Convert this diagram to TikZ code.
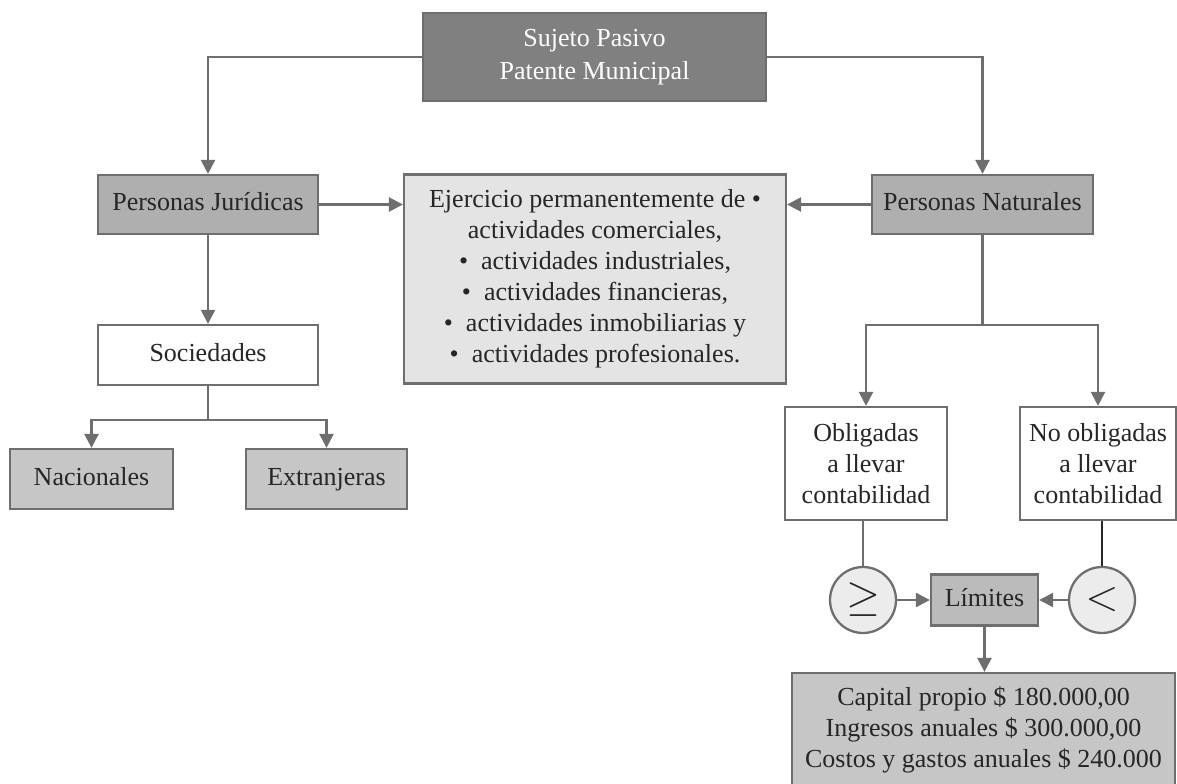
\documentclass[tikz,border=0pt]{standalone}
\usepackage{fontspec}
\setmainfont{Liberation Serif}
\usetikzlibrary{arrows.meta,positioning,calc}
\definecolor{DarkBox}{HTML}{808080}
\definecolor{MidBox}{HTML}{AFAFAF}
\definecolor{SoftBox}{HTML}{C6C6C6}
\definecolor{PaleBox}{HTML}{E4E4E4}
\definecolor{RoundBox}{HTML}{ECECEC}
\definecolor{Edge}{HTML}{6E6E6E}
\definecolor{Ink}{HTML}{262626}
\begin{document}
\begin{tikzpicture}[x=0.02cm,y=-0.02cm,
    box/.style={rectangle,draw=Edge,line width=1.3pt,text=Ink,align=center,inner sep=0pt,font=\fontsize{14.8}{17.6}\selectfont},
    head/.style={box,fill=DarkBox,text=white,minimum width=6.86cm,minimum height=1.76cm,font=\fontsize{14.8}{18.6}\selectfont},
    group/.style={box,fill=MidBox,minimum width=4.4cm,minimum height=1.18cm},
    kind/.style={box,fill=SoftBox,minimum height=1.2cm},
    plain/.style={box,fill=white},
    sign/.style={circle,draw=Edge,line width=1.3pt,fill=RoundBox,text=Ink,minimum size=1.32cm,inner sep=0pt,font=\fontsize{28}{28}\selectfont},
    link/.style={line width=1.4pt,draw=Edge},
    arrow/.style={link,-{Triangle[length=2.8mm,width=2.8mm]}}
]
\useasboundingbox (0,0) rectangle (1177,784);
% cabecera y ramas
\node[head] (sujeto) at (594.5,57) {Sujeto Pasivo\\Patente Municipal};
\node[group] (juridicas) at (208,204.5) {Personas Jurídicas\strut};
\node[group,minimum width=4.42cm] (naturales) at (982.5,204.5) {Personas Naturales\strut};
\node[box,fill=PaleBox,minimum width=7.64cm,minimum height=4.18cm] (ejercicio) at (595,279)
  {Ejercicio permanentemente de •\\actividades comerciales,\\•~~actividades industriales,\\•~~actividades financieras,\\•~~actividades inmobiliarias y\\•~~actividades profesionales.};
% personas juridicas
\node[plain,minimum width=4.4cm,minimum height=1.2cm] (sociedades) at (208,355) {Sociedades\strut};
\node[kind,minimum width=3.26cm] (nacionales) at (91.5,479) {Nacionales\strut};
\node[kind,minimum width=3.22cm] (extranjeras) at (326.5,479) {Extranjeras\strut};
\coordinate (socjoin) at (208,420);
% personas naturales
\coordinate (natjoin) at (982.5,325);
\node[plain,minimum width=3.24cm,minimum height=2.26cm] (obligadas) at (866,463.5) {Obligadas\\a llevar\\contabilidad};
\node[plain,minimum width=3.12cm,minimum height=2.26cm] (noobligadas) at (1098,463.5) {No obligadas\\a llevar\\contabilidad};
\node[sign] (mayor) at (863,600) {$\geq$};
\node[sign] (menor) at (1102,600) {$<$};
\node[box,fill=MidBox!85!white,minimum width=2.14cm,minimum height=1.02cm] (limites) at (984.5,600) {Límites\strut};
\node[box,fill=SoftBox,minimum width=7.66cm,minimum height=2.26cm] (montos) at (983.5,729.5)
  {Capital propio \$ 180.000,00\\Ingresos anuales \$ 300.000,00\\Costos y gastos anuales \$ 240.000};
% conectores
\draw[arrow] (sujeto.west) -| (juridicas.north);
\draw[arrow] (sujeto.east) -| (naturales.north);
\draw[arrow] (juridicas.east) -- (juridicas.east -| ejercicio.west);
\draw[arrow] (naturales.west) -- (naturales.west -| ejercicio.east);
\draw[arrow] (juridicas.south) -- (sociedades.north);
\draw[link] (sociedades.south) -- (socjoin);
\draw[arrow] (socjoin) -| (nacionales.north);
\draw[arrow] (socjoin) -| (extranjeras.north);
\draw[link] (naturales.south) -- (natjoin);
\draw[arrow] (natjoin) -| (obligadas.north);
\draw[arrow] (natjoin) -| (noobligadas.north);
\draw[link] (mayor.north |- obligadas.south) -- (mayor.north);
\draw[link,draw=Ink] (menor.north |- noobligadas.south) -- (menor.north);
\draw[arrow] (mayor.east) -- (limites.west);
\draw[arrow] (menor.west) -- (limites.east);
\draw[arrow] (limites.south) -- (limites.south |- montos.north);
\end{tikzpicture}
\end{document}
